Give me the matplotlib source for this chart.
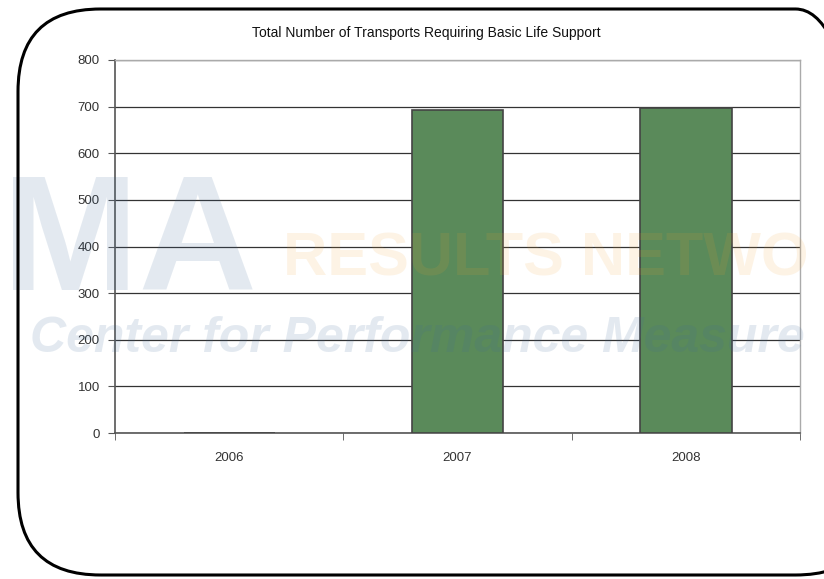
import matplotlib
matplotlib.use("Agg")
import matplotlib.pyplot as plt
import matplotlib.patches as patches

years = ["2006", "2007", "2008"]
transports = [0, 692, 697]
y_ticks = [0, 100, 200, 300, 400, 500, 600, 700, 800]

plt.rcParams['font.family'] = ['Liberation Sans', 'DejaVu Sans']

fig = plt.figure(figsize=(8.24, 5.79), dpi=100)
fig.patch.set_facecolor('white')

ax = fig.add_axes([115 / 824, 1 - 433 / 579, 685 / 824, 373 / 579])
ax.patch.set_alpha(0)

x = range(len(years))
ax.bar(x, transports, width=0.4, color='#5a8a5a', edgecolor='#444444', linewidth=1.2, zorder=3)

ax.set_xlim(-0.5, 2.5)
ax.set_ylim(0, 800)
ax.set_yticks(y_ticks)
ax.set_xticks(x)
ax.set_xticklabels(years)
ax.set_xticks([-0.5, 0.5, 1.5, 2.5], minor=True)
ax.tick_params(axis='x', which='major', length=0, pad=14)
ax.tick_params(axis='x', which='minor', length=5, direction='out', color='#555555')
ax.tick_params(axis='y', length=5, direction='out', color='#555555', pad=6)
ax.tick_params(labelsize=9.5, labelcolor='#333333')

ax.grid(axis='y', color='#333333', linewidth=0.9, zorder=1)
ax.set_axisbelow(True)
for s in ['left', 'bottom']:
    ax.spines[s].set_color('#555555')
    ax.spines[s].set_linewidth(1.2)
for s in ['top', 'right']:
    ax.spines[s].set_color('#aaaaaa')
    ax.spines[s].set_linewidth(1)

# faint watermark, laid over the bars like the scanned logo
wm = dict(transform=fig.transFigure, clip_on=False, zorder=4, ha='left', va='baseline')
ax.text(0.002, 0.499, "MA", fontsize=118, fontweight='bold', color='#3f6a9a', alpha=0.14, **wm)
ax.text(0.343, 0.525, "RESULTS NETWO", fontsize=44, fontweight='bold', color='#f0a030',
        alpha=0.12, **wm)
ax.text(0.036, 0.392, "Center for Performance Measure", fontsize=36, fontweight='bold',
        style='italic', color='#3f6a9a', alpha=0.14, **wm)

fig.text(0.517, 1 - 33 / 579, "Total Number of Transports Requiring Basic Life Support",
         fontsize=10, ha='center', va='center', color='#111111')

# rounded frame
frame = patches.FancyBboxPatch((18 / 824, 4 / 579), 860 / 824, 566 / 579,
                               boxstyle="round,pad=0,rounding_size=0.1",
                               transform=fig.transFigure, facecolor='none',
                               edgecolor='black', linewidth=2.2, mutation_aspect=824 / 579)
fig.patches.append(frame)

fig.savefig("out.png", dpi=100)
